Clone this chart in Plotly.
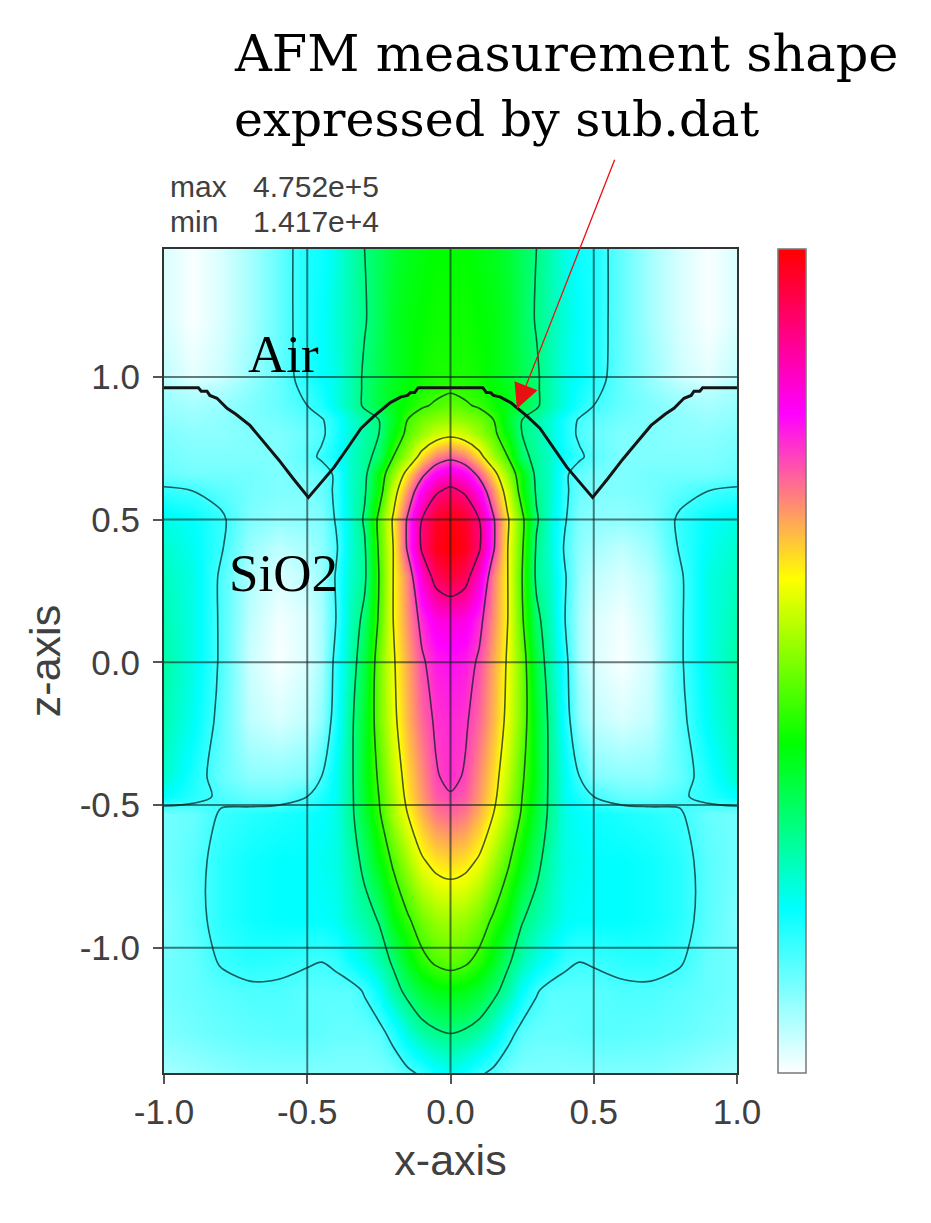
import plotly.graph_objects as go

# left half of the field, normalised to the colour bar; right half mirrors it
x_left = [-1.0,-.9,-.8,-.7,-.6,-.5,-.45,-.4,-.35,-.3,-.25,-.2,-.15,-.1,-.05,0.0]
z_rows = [1.448,1.2,1.0,.96,.9,.85,.8,.72,.66,.6,.5,.4,.3,.15,0.0,-.2,-.4,-.47,-.53,-.7,-.9,-1.05,-1.15,-1.3,-1.44]
field_left = [
 [.03,.005,.03,.07,.12,.18,.19,.22,.26,.30,.33,.36,.38,.39,.40,.40],
 [.03,.005,.03,.07,.12,.18,.20,.23,.26,.295,.33,.37,.39,.40,.41,.41],
 [.05,.02,.04,.08,.12,.175,.20,.22,.26,.31,.34,.37,.39,.41,.42,.42],
 [.07,.05,.06,.09,.12,.165,.19,.22,.26,.31,.35,.38,.40,.42,.43,.44],
 [.08,.07,.08,.10,.12,.15,.18,.22,.26,.31,.35,.38,.41,.44,.46,.475],
 [.09,.08,.09,.10,.11,.13,.145,.18,.23,.27,.30,.37,.45,.49,.51,.52],
 [.10,.09,.09,.10,.10,.12,.14,.18,.23,.27,.30,.39,.47,.52,.56,.58],
 [.11,.10,.10,.10,.10,.13,.16,.19,.24,.28,.32,.45,.53,.63,.70,.73],
 [.12,.11,.11,.11,.10,.11,.12,.16,.24,.28,.40,.51,.63,.73,.81,.84],
 [.16,.15,.13,.11,.10,.10,.12,.16,.24,.29,.41,.56,.69,.81,.89,.92],
 [.22,.20,.16,.10,.085,.09,.10,.155,.23,.31,.47,.61,.76,.90,.97,.99],
 [.24,.21,.155,.08,.05,.07,.09,.14,.23,.29,.46,.60,.76,.91,.98,1.0],
 [.25,.22,.14,.06,.03,.05,.08,.155,.24,.285,.45,.60,.70,.84,.93,.96],
 [.26,.22,.14,.05,.01,.03,.07,.15,.25,.32,.46,.60,.69,.77,.82,.83],
 [.27,.22,.14,.04,.005,.03,.07,.17,.26,.35,.49,.59,.67,.74,.78,.79],
 [.26,.21,.13,.05,.03,.05,.09,.18,.28,.37,.49,.58,.66,.72,.76,.77],
 [.24,.18,.12,.09,.09,.10,.15,.21,.28,.38,.46,.55,.63,.69,.745,.765],
 [.20,.17,.14,.12,.12,.15,.18,.21,.28,.37,.45,.53,.62,.68,.73,.745],
 [.11,.12,.155,.17,.18,.19,.20,.22,.28,.36,.44,.53,.60,.66,.705,.72],
 [.11,.13,.17,.19,.20,.20,.21,.22,.26,.32,.39,.46,.53,.59,.62,.63],
 [.10,.13,.17,.19,.20,.20,.20,.21,.24,.27,.305,.39,.44,.49,.52,.53],
 [.11,.12,.155,.17,.165,.155,.15,.16,.19,.22,.26,.31,.38,.43,.46,.475],
 [.11,.12,.13,.14,.14,.13,.13,.13,.13,.155,.20,.27,.32,.36,.385,.39],
 [.10,.11,.12,.125,.13,.13,.125,.12,.12,.12,.13,.17,.23,.27,.29,.30],
 [.07,.08,.09,.10,.10,.10,.10,.10,.10,.10,.10,.11,.135,.16,.19,.21],
]
x_full = x_left + [-v for v in reversed(x_left[:-1])]
field_full = [r + list(reversed(r[:-1])) for r in field_left]

surface_x_left = [-1.0,-.88,-.87,-.85,-.84,-.815,-.78,-.75,-.7,-.65,-.6,-.55,-.496]
surface_z_left = [.962,.962,.95,.95,.935,.925,.89,.87,.83,.77,.71,.645,.578]
surface_x_mid = [-.46,-.406,-.36,-.312,-.27,-.243,-.21,-.173,-.15,-.14,-.125,-.113,0.0]
surface_z_mid = [.62,.684,.75,.82,.86,.884,.91,.93,.935,.945,.945,.962,.962]
surface_x = surface_x_left + surface_x_mid
surface_z = surface_z_left + surface_z_mid
surface_x = surface_x + [-v for v in reversed(surface_x[:-1])]
surface_z = surface_z + list(reversed(surface_z[:-1]))

x_ticks = [-1.0,-.5,0.0,.5,1.0]
z_ticks = [-1.0,-.5,0.0,.5,1.0]
x_range = [-1.0,1.0]
z_range = [-1.4385,1.448]
colorscale = [[0,"#ffffff"],[.2,"#00ffff"],[.4,"#00ff00"],[.6,"#ffff00"],[.8,"#ff00ff"],[1,"#ff0000"]]
contour_start, contour_end, contour_step = .15,.9,.15

W,H = 931,1223
L,R,T,B = 164,737,249,1073

fig = go.Figure()
fig.add_trace(go.Heatmap(x=x_full,y=z_rows,z=field_full,zmin=0,zmax=1,zsmooth="best",
    colorscale=colorscale,
    colorbar=dict(x=(778-L)/(R-L),xanchor="left",y=.5,yanchor="middle",thickness=28,thicknessmode="pixels",
                  len=B-T,lenmode="pixels",xpad=0,ypad=0,ticks="",showticklabels=False,
                  outlinecolor="#777777",outlinewidth=1.5,borderwidth=0)))
fig.add_trace(go.Contour(x=x_full,y=z_rows,z=field_full,showscale=False,autocontour=False,
    contours=dict(coloring="none",start=contour_start,end=contour_end,size=contour_step),
    line=dict(color="rgba(0,30,30,.72)",width=1.6,smoothing=.9),hoverinfo="skip"))
grid_color = "rgba(15,35,35,.6)"
for v in x_ticks[1:-1]:
    fig.add_trace(go.Scatter(x=[v,v],y=z_range,mode="lines",line=dict(color=grid_color,width=2),showlegend=False,hoverinfo="skip"))
for v in z_ticks:
    fig.add_trace(go.Scatter(x=x_range,y=[v,v],mode="lines",line=dict(color=grid_color,width=2),showlegend=False,hoverinfo="skip"))
fig.add_trace(go.Scatter(x=surface_x,y=surface_z,mode="lines",line=dict(color="#141414",width=3),showlegend=False,hoverinfo="skip"))

axis_font = dict(family="Liberation Sans",size=35,color="#404040")
title_font = dict(family="Liberation Sans",size=43,color="#404040")
axis_common = dict(ticks="outside",ticklen=9,tickwidth=1.5,tickcolor="#555555",tickfont=axis_font,showgrid=False,zeroline=False,
                   showline=True,mirror=True,linecolor="#333333",linewidth=2)
fig.update_layout(width=W,height=H,paper_bgcolor="white",plot_bgcolor="white",showlegend=False,
    margin=dict(l=L,r=W-R,t=T,b=H-B,autoexpand=False),
    xaxis=dict(range=x_range,tickvals=x_ticks,ticktext=[f"{v:.1f}" for v in x_ticks],ticklabelstandoff=-2,
               title=dict(text="x-axis",font=title_font,standoff=15),**axis_common),
    yaxis=dict(range=z_range,tickvals=z_ticks,ticktext=[f"{v:.1f}" for v in z_ticks],ticklabelstandoff=6,
               title=dict(text="z-axis",font=title_font,standoff=6),**axis_common))

def label(text,x,y,family,size,color="#000000"):
    fig.add_annotation(text=text,xref="paper",yref="paper",x=(x-L)/(R-L),y=(B-y)/(B-T),xanchor="left",yanchor="middle",
                       showarrow=False,font=dict(family=family,size=size,color=color),borderpad=0)
label("AFM measurement shape",233,53,"DejaVu Serif",51)
label("expressed by sub.dat",233,120,"DejaVu Serif",49)
label("Air",247,354,"Liberation Serif",53)
label("SiO2",228,573,"Liberation Serif",53)
label("max",169,186,"Liberation Sans",30,"#404040")
label("4.752e+5",252,186,"Liberation Sans",30,"#404040")
label("min",169,221,"Liberation Sans",30,"#404040")
label("1.417e+4",252,221,"Liberation Sans",30,"#404040")

fig.add_annotation(text="",xref="x",yref="y",axref="x",ayref="y",x=.232,y=.888,ax=.575,ay=1.766,
                   showarrow=True,arrowhead=2,arrowsize=3.8,arrowwidth=1.3,arrowcolor="#e81010")

fig.write_html("out.html",post_script="document.body.style.margin='0';",config={"displayModeBar":False})
